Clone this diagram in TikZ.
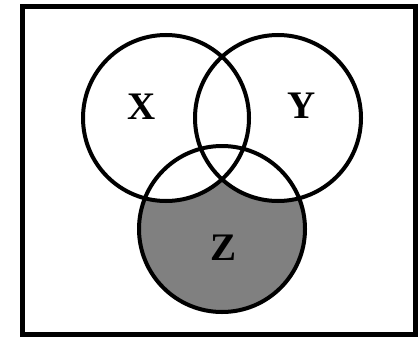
\documentclass[tikz,border=0pt]{standalone}
\usepackage{fontspec}
\setmainfont{Liberation Serif}
\usetikzlibrary{positioning}
\definecolor{zgray}{HTML}{808080}
\tikzset{
  setcircle/.style={circle, draw=black, line width=4pt, inner sep=0pt, minimum size=166pt},
  setlabel/.style={font=\fontsize{39}{42}\selectfont\bfseries, inner sep=0pt},
  frame/.style={draw=black, line width=5pt},
}
\begin{document}
\begin{tikzpicture}[x=1pt, y=-1pt]
  \useasboundingbox (0,0) rectangle (419,337);
  \draw[frame] (22.5,6.5) rectangle (415,334);
  % Z without X and Y
  \fill[zgray] (222,229) circle (83);
  \fill[white] (166,118) circle (83) (278,118) circle (83);
  \node[setcircle] (X) at (166,118) {};
  \node[setcircle] (Y) at (278,118) {};
  \node[setcircle] (Z) at (222,229) {};
  \node[setlabel] (lx) at (142,107) {X};
  \node[setlabel] (ly) at (302,106) {Y};
  \node[setlabel] (lz) at (224,248) {Z};
\end{tikzpicture}
\end{document}
